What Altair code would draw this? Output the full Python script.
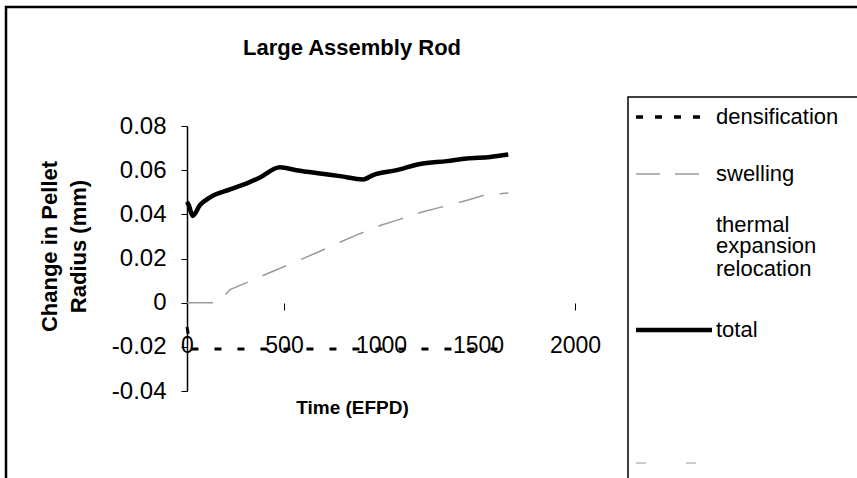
import altair as alt
import pandas as pd

title_text = "Large Assembly Rod"

# total series (Time EFPD, change in pellet radius mm)
total_x = [0, 10, 29, 67, 119, 222, 308, 376, 479, 565, 686, 789, 908, 959, 1081, 1201, 1339, 1442, 1562, 1656]
total_y = [0.0457, 0.044, 0.0393, 0.0442, 0.0477, 0.0513, 0.054, 0.0567, 0.0613, 0.060, 0.0585, 0.0573, 0.0558, 0.0578, 0.060, 0.0628, 0.0641, 0.0653, 0.066, 0.0671]

swell_x = [0, 160, 222, 366, 462, 582, 668, 797, 875, 1003, 1088, 1217, 1320, 1449, 1536, 1656]
swell_y = [0.0, 0.0, 0.0059, 0.0113, 0.0149, 0.0194, 0.0226, 0.0277, 0.0307, 0.0352, 0.0375, 0.0412, 0.0435, 0.0465, 0.0488, 0.0497]

dens_x = [0, 20, 1656]
dens_y = [-0.011, -0.021, -0.021]

x_ticks = [0, 500, 1000, 1500, 2000]
y_ticks = [-0.04, -0.02, 0, 0.02, 0.04, 0.06, 0.08]

legend_names = ["densification", "swelling", "thermal expansion", "relocation", "total", ""]

rows = []
for x, y in zip(dens_x, dens_y):
    rows.append({"t": x, "v": y, "s": "densification"})
for x, y in zip(swell_x, swell_y):
    rows.append({"t": x, "v": y, "s": "swelling"})
for x, y in zip(total_x, total_y):
    rows.append({"t": x, "v": y, "s": "total"})
df = pd.DataFrame(rows)

FONT = "Liberation Sans"
OX, OY = 187, 126  # plot origin in page pixels

xaxis = alt.Axis(values=x_ticks, title="Time (EFPD)", format="d",
                 offset=-88, domain=False, domainOpacity=0, domainColor="transparent",
                 tickSize=7,
                 tickColor=alt.condition("datum.value == 500 || datum.value == 2000",
                                         alt.value("black"), alt.value("transparent")),
                 labelPadding=24, labelFontSize=23, labelFont=FONT, labelColor="black",
                 labelFlush=False, grid=False,
                 titleFont=FONT, titleFontSize=19, titleFontWeight="bold",
                 titleColor="black", titleX=352 - OX, titleY=104,
                 titleAlign="center", titleBaseline="middle")
xenc = alt.X("t:Q", scale=alt.Scale(domain=[0, 2000], nice=False), axis=xaxis)
yenc = alt.Y("v:Q", scale=alt.Scale(domain=[-0.04, 0.08], nice=False),
             axis=alt.Axis(values=y_ticks,
                           labelExpr="datum.value == 0 ? '0' : (datum.value < 0 ? '-' + format(abs(datum.value), '.2f') : format(datum.value, '.2f'))",
                           domainColor="black", domainWidth=1.5,
                           tickColor="black", tickSize=6, grid=False,
                           labelFontSize=24, labelFont=FONT, labelColor="black", labelPadding=15,
                           title=["Change in Pellet", "Radius (mm)"],
                           titleFont=FONT, titleFontSize=22, titleFontWeight="bold",
                           titleColor="black", titleLineHeight=29,
                           titleX=49 - OX, titleY=246 - OY,
                           titleAlign="center", titleBaseline="middle"))

dens = alt.Chart(df[df.s == "densification"]).mark_line(
    color="black", strokeWidth=3, strokeDash=[7, 16]).encode(x=xenc, y=yenc)
swell = alt.Chart(df[df.s == "swelling"]).mark_line(
    color="#9a9a9a", strokeWidth=1.5, strokeDash=[26, 16]).encode(x=xenc, y=yenc)
tot = alt.Chart(df[df.s == "total"]).mark_line(
    color="black", strokeWidth=4.5, interpolate="monotone").encode(x=xenc, y=yenc)

one = pd.DataFrame({"k": [0]})

# ---- chart title (layout) ----
title_mark = alt.Chart(one).transform_calculate(lab="'" + title_text + "'").mark_text(
    font=FONT, fontSize=22, fontWeight="bold", color="black",
    align="center", baseline="middle").encode(
    x=alt.value(352 - OX), y=alt.value(48 - OY), text="lab:N")

# ---- frame boxes (layout) ----
outer = alt.Chart(one).mark_rect(
    fillOpacity=0, stroke="black", strokeWidth=2.5).encode(
    x=alt.value(6 - OX), x2=alt.value(900 - OX), y=alt.value(7 - OY), y2=alt.value(520 - OY))
legbox = alt.Chart(one).mark_rect(
    fillOpacity=0, stroke="black", strokeWidth=1.5).encode(
    x=alt.value(628 - OX), x2=alt.value(900 - OX), y=alt.value(97 - OY), y2=alt.value(520 - OY))

# ---- legend (layout positions) ----
leg_row_y = [117, 174, 225, 269, 330, 463]
leg_df = pd.DataFrame({
    "name": legend_names,
    "ly": [v - OY for v in leg_row_y],
    "lx1": [636 - OX] * 6,
    "lx2": [712 - OX] * 6,
    "tx": [716 - OX] * 6,
})
leg_text = alt.Chart(leg_df).transform_calculate(
    lab="datum.name == 'thermal expansion' ? ['thermal', 'expansion'] : datum.name"
).mark_text(align="left", baseline="middle", font=FONT, fontSize=22, color="black",
            lineHeight=21).encode(
    x=alt.X("tx:Q", scale=None), y=alt.Y("ly:Q", scale=None), text="lab:N")

def leg_line(name, **kw):
    return alt.Chart(leg_df[leg_df.name == name]).mark_rule(**kw).encode(
        x=alt.X("lx1:Q", scale=None), x2="lx2:Q", y=alt.Y("ly:Q", scale=None))

leg_dens = leg_line("densification", color="black", strokeWidth=3.5, strokeDash=[7, 12])
leg_swell = leg_line("swelling", color="#9a9a9a", strokeWidth=1.5, strokeDash=[24, 15])
leg_total = leg_line("total", color="black", strokeWidth=4.5)
leg_last = leg_line("", color="#bbbbbb", strokeWidth=1.5, strokeDash=[10, 40])

chart = alt.layer(dens, swell, tot, title_mark, outer, legbox, leg_dens, leg_swell, leg_total,
                  leg_last, leg_text).properties(
    width=388, height=265,
    autosize=alt.AutoSizeParams(type="none"),
    padding={"left": OX, "top": OY, "right": 857 - OX - 388, "bottom": 478 - OY - 265},
).configure_view(stroke=None).configure_axisX(domain=False)

chart.save("out.html", embed_options={"renderer": "svg", "actions": False})
